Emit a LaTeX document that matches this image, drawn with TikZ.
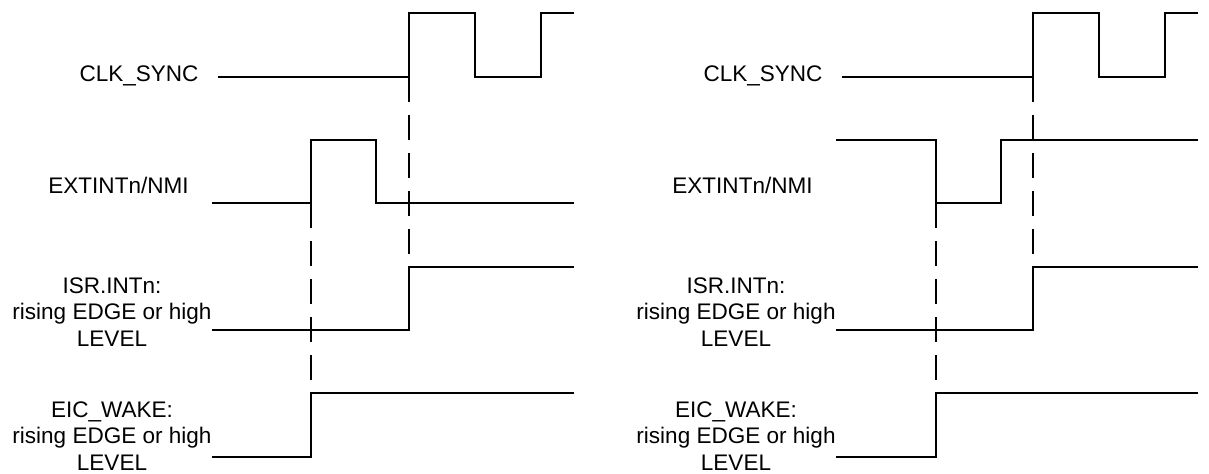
\documentclass[tikz,border=0pt]{standalone}
\usepackage{fontspec}
\setmainfont{Liberation Sans}

\begin{document}
\begin{tikzpicture}[x=0.75pt, y=-0.75pt,
    wave/.style={line width=1.5pt},
    sync/.style={line width=1.5pt, dash pattern=on 18.75pt off 9.75pt},
    sig/.style={font=\fontsize{16.9}{19.9}\selectfont, align=center, inner sep=0pt}]
  \useasboundingbox (0,0) rectangle (1209,474);
  % left: rising pulse
  \node[sig, anchor=base] (clkL) at (139,82) {CLK\_SYNC};
  \node[sig, anchor=base] (extL) at (118.5,193) {EXTINTn/NMI};
  \node[sig] (isrL) at (112,312) {ISR.INTn:\\rising EDGE or high\\LEVEL};
  \node[sig] (eicL) at (112,436) {EIC\_WAKE:\\rising EDGE or high\\LEVEL};
  \coordinate (syncL) at (409,77);
  \coordinate (isrupL) at (409,267);
  \coordinate (extupL) at (311,203);
  \coordinate (eicupL) at (311,393);
  \draw[wave] (218,77) -| (409,13) -| (475,77) -| (541,13) -- (574,13);
  \draw[wave] (212,203) -| (311,140) -| (376,203) -- (574,203);
  \draw[wave] (212,330) -| (isrupL) -- (574,267);
  \draw[wave] (212,457) -| (eicupL) -- (574,393);
  \draw[sync] (syncL) -- (isrupL);
  \draw[sync] (extupL) -- (eicupL);
  % right: falling pulse
  \node[sig, anchor=base] (clkR) at (763,82) {CLK\_SYNC};
  \node[sig, anchor=base] (extR) at (742.5,193) {EXTINTn/NMI};
  \node[sig] (isrR) at (736,312) {ISR.INTn:\\rising EDGE or high\\LEVEL};
  \node[sig] (eicR) at (736,436) {EIC\_WAKE:\\rising EDGE or high\\LEVEL};
  \coordinate (syncR) at (1033,77);
  \coordinate (isrupR) at (1033,267);
  \coordinate (extdnR) at (936,203);
  \coordinate (eicupR) at (936,393);
  \draw[wave] (842,77) -| (1033,13) -| (1099,77) -| (1165,13) -- (1198,13);
  \draw[wave] (836,140) -| (extdnR) -| (1001,140) -- (1198,140);
  \draw[wave] (836,330) -| (isrupR) -- (1198,267);
  \draw[wave] (836,457) -| (eicupR) -- (1198,393);
  \draw[sync] (syncR) -- (isrupR);
  \draw[sync] (extdnR) -- (eicupR);
\end{tikzpicture}
\end{document}
